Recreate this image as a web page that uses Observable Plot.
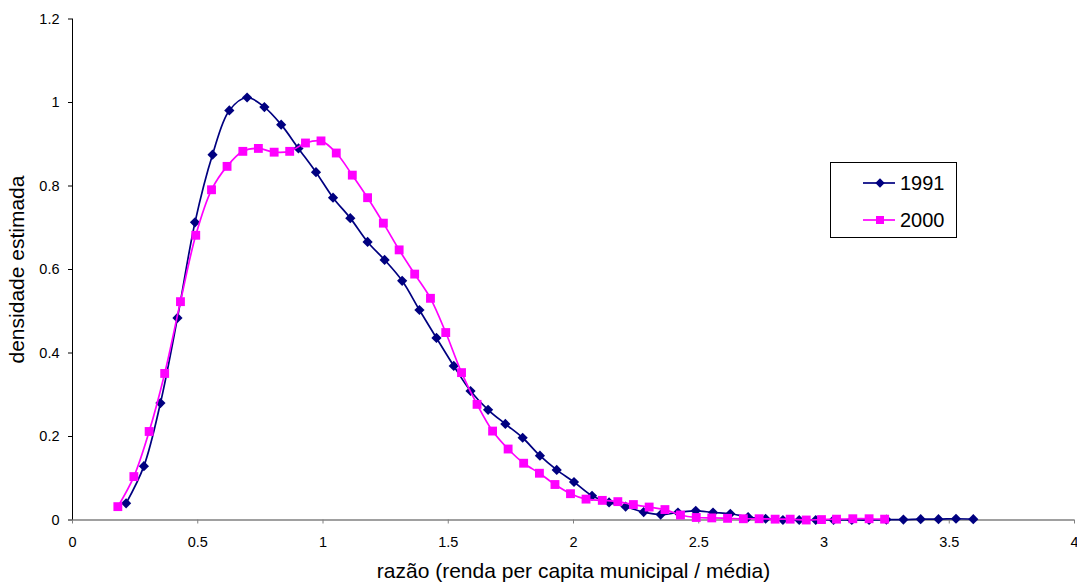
<!DOCTYPE html>
<html><head><meta charset="utf-8">
<script src="https://cdn.jsdelivr.net/npm/d3@7"></script>
<script src="https://cdn.jsdelivr.net/npm/@observablehq/plot@0.6"></script>
<style>
body{margin:0;background:#fff;}
#wrap{position:relative;width:1077px;height:582px;font-family:"Liberation Sans",Arial,sans-serif;}
#legend{position:absolute;left:830px;top:162px;width:127px;height:76px;border:1px solid #000;background:#fff;box-sizing:border-box;}
#legend svg{display:block;}
</style></head><body><div id="wrap"></div>
<script>
const seriesNames = ["1991", "2000"];
const x1991 = [0.214,0.285,0.351,0.419,0.489,0.559,0.626,0.697,0.766,0.833,0.902,0.972,1.040,1.109,1.178,1.246,1.316,1.385,1.453,1.522,1.589,1.659,1.728,1.797,1.866,1.933,2.002,2.074,2.142,2.208,2.280,2.348,2.417,2.488,2.557,2.626,2.697,2.767,2.836,2.901,2.967,3.038,3.111,3.180,3.249,3.317,3.386,3.457,3.527,3.596];
const y1991 = [0.040,0.129,0.280,0.484,0.713,0.875,0.981,1.012,0.989,0.947,0.890,0.833,0.772,0.723,0.666,0.623,0.573,0.503,0.436,0.369,0.309,0.264,0.230,0.197,0.154,0.120,0.091,0.058,0.042,0.032,0.019,0.013,0.018,0.022,0.018,0.015,0.007,0.003,0.000,0.000,0.000,0.000,0.000,0.000,0.001,0.001,0.002,0.002,0.003,0.002];
const x2000 = [0.181,0.245,0.306,0.368,0.431,0.492,0.555,0.617,0.680,0.742,0.805,0.867,0.930,0.992,1.053,1.117,1.178,1.241,1.304,1.366,1.429,1.490,1.553,1.615,1.677,1.739,1.801,1.864,1.926,1.988,2.050,2.115,2.177,2.239,2.302,2.365,2.427,2.490,2.552,2.615,2.678,2.741,2.805,2.865,2.929,2.990,3.050,3.115,3.180,3.242];
const y2000 = [0.032,0.104,0.212,0.351,0.523,0.682,0.791,0.847,0.883,0.890,0.881,0.883,0.903,0.908,0.879,0.826,0.772,0.711,0.647,0.589,0.531,0.449,0.353,0.277,0.213,0.170,0.136,0.112,0.085,0.063,0.050,0.047,0.044,0.037,0.031,0.025,0.012,0.006,0.005,0.004,0.003,0.003,0.002,0.002,0.000,0.001,0.002,0.003,0.003,0.002];
const xTicks = [0,0.5,1,1.5,2,2.5,3,3.5,4];
const yTicks = [0,0.2,0.4,0.6,0.8,1,1.2];
const xLabel = "razão (renda per capita municipal / média)";
const yLabel = "densidade estimada";

const d1991 = x1991.map((x,i)=>({x, y:y1991[i], s:seriesNames[0]}));
const d2000 = x2000.map((x,i)=>({x, y:y2000[i], s:seriesNames[1]}));
const NAVY = "#000080", MAG = "#ff00ff";

const plot = Plot.plot({
  width:1077, height:582,
  marginLeft:72, marginRight:3, marginTop:18.5, marginBottom:62.5,
  style:{fontFamily:'"Liberation Sans", Arial, sans-serif', fontSize:"14.5px", background:"white", color:"black", overflow:"visible"},
  x:{domain:[0,4]},
  y:{domain:[0,1.2]},
  marks:[
    Plot.axisY({ticks:yTicks, tickSize:4, tickPadding:9, tickFormat:d=>String(d), stroke:"black", strokeOpacity:1, label:yLabel, labelAnchor:"center", labelArrow:"none", labelOffset:63}),
    Plot.axisX({ticks:xTicks, tickSize:4, tickPadding:13, tickFormat:d=>String(d), stroke:"#808080", strokeOpacity:1, label:xLabel, labelAnchor:"center", labelArrow:"none", labelOffset:58}),
    Plot.ruleY([0], {stroke:"#808080", strokeWidth:1.5}),
    Plot.ruleX([0], {stroke:"black", strokeWidth:1}),
    Plot.line(d1991, {x:"x", y:"y", stroke:NAVY, strokeWidth:1.7, curve:"catmull-rom"}),
    Plot.dot(d1991, {x:"x", y:"y", symbol:"diamond2", r:4.6, fill:NAVY, stroke:"none"}),
    Plot.line(d2000, {x:"x", y:"y", stroke:MAG, strokeWidth:1.7, curve:"catmull-rom"}),
    Plot.dot(d2000, {x:"x", y:"y", symbol:"square", r:5, fill:MAG, stroke:"none"})
  ]
});
const wrap = document.getElementById("wrap");
wrap.appendChild(plot);
d3.select(plot).selectAll('g[aria-label="y-axis label"] text, g[aria-label="x-axis label"] text').style("font-size","21px");

// legend
const leg = document.createElement("div");
leg.id = "legend";
const ls = d3.create("svg").attr("width",125).attr("height",74);
const items = [{name:seriesNames[0], c:NAVY, sym:d3.symbolDiamond2}, {name:seriesNames[1], c:MAG, sym:d3.symbolSquare}];
items.forEach((it,i)=>{
  const cy = 20 + i*37;
  ls.append("line").attr("x1",32).attr("x2",64).attr("y1",cy).attr("y2",cy).attr("stroke",it.c).attr("stroke-width",1.7);
  ls.append("path").attr("d", d3.symbol(it.sym, it.sym===d3.symbolSquare ? 64 : 56)()).attr("transform",`translate(49,${cy})`).attr("fill",it.c);
  ls.append("text").attr("x",69).attr("y",cy).attr("dy","0.36em").attr("font-size","20px").attr("font-family",'"Liberation Sans", Arial, sans-serif').text(it.name);
});
leg.appendChild(ls.node());
wrap.appendChild(leg);
</script></body></html>
